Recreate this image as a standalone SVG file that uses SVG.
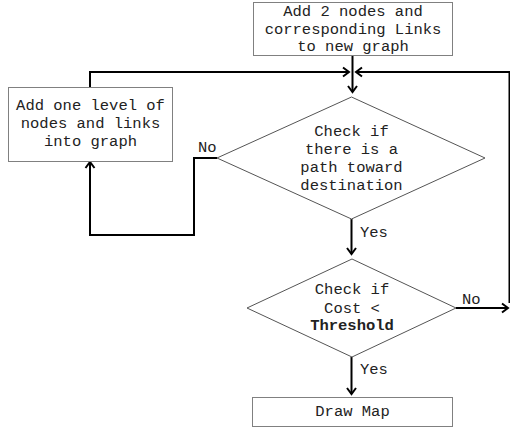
<svg xmlns="http://www.w3.org/2000/svg" width="510" height="428" viewBox="0 0 510 428">
<style>
.box{fill:#fff;stroke:#808080;stroke-width:1}
.dia{fill:#fff;stroke:#555;stroke-width:1}
.t{font-family:"Liberation Mono","Courier New",monospace;font-size:15.5px;fill:#222;text-anchor:middle}
.l{font-family:"Liberation Mono","Courier New",monospace;font-size:15.5px;fill:#222}
.c{fill:none;stroke:#000;stroke-width:2}
</style>
<defs>
<marker id="arr" markerWidth="12" markerHeight="12" refX="9" refY="6" orient="auto" markerUnits="userSpaceOnUse">
<polyline points="3,1.5 9,6 3,10.5" fill="none" stroke="#000" stroke-width="2"/>
</marker>
</defs>
<rect width="510" height="428" fill="#fff"/>
<g id="connectors">
<line class="c" x1="352.5" y1="55" x2="352.5" y2="92" marker-end="url(#arr)"/>
<polyline class="c" points="90,87 90,72 349,72" marker-end="url(#arr)"/>
<polyline class="c" points="509.5,303 509.5,72 356,72" marker-end="url(#arr)"/>
<polyline class="c" points="217,158 194,158 194,235 90,235 90,162" marker-end="url(#arr)"/>
<line class="c" x1="351.5" y1="219" x2="351.5" y2="254" marker-end="url(#arr)"/>
<line class="c" x1="456" y1="308" x2="508" y2="308" marker-end="url(#arr)"/>
<line class="c" x1="351.5" y1="357" x2="351.5" y2="394" marker-end="url(#arr)"/>
<text class="l" x="198" y="152">No</text>
<text class="l" x="360" y="237">Yes</text>
<text class="l" x="462" y="304">No</text>
<text class="l" x="360" y="374">Yes</text>
</g>
<g id="n_add2">
<rect class="box" x="253.5" y="2.5" width="199" height="53"/>
<text class="t" x="353" y="16">Add 2 nodes and</text>
<text class="t" x="353" y="33.5">corresponding Links</text>
<text class="t" x="353" y="51">to new graph</text>
</g>
<g id="n_addlevel">
<rect class="box" x="8.5" y="87.5" width="164" height="74"/>
<text class="t" x="90.5" y="109.5">Add one level of</text>
<text class="t" x="90.5" y="128">nodes and links</text>
<text class="t" x="90.5" y="146">into graph</text>
</g>
<g id="n_checkpath">
<polygon class="dia" points="351.5,97 485,158 351.5,219 217,158"/>
<text class="t" x="351.5" y="136">Check if</text>
<text class="t" x="351.5" y="154">there is a</text>
<text class="t" x="351.5" y="172">path toward</text>
<text class="t" x="351.5" y="190">destination</text>
</g>
<g id="n_checkcost">
<polygon class="dia" points="352,259 456,308 352,357 247,308"/>
<text class="t" x="352" y="294">Check if</text>
<text class="t" x="352" y="312.5">Cost &lt;</text>
<text class="t" x="352" y="330" font-weight="bold">Threshold</text>
</g>
<g id="n_draw">
<rect class="box" x="252.5" y="397.5" width="200" height="29"/>
<text class="t" x="352.5" y="416">Draw Map</text>
</g>
</svg>
